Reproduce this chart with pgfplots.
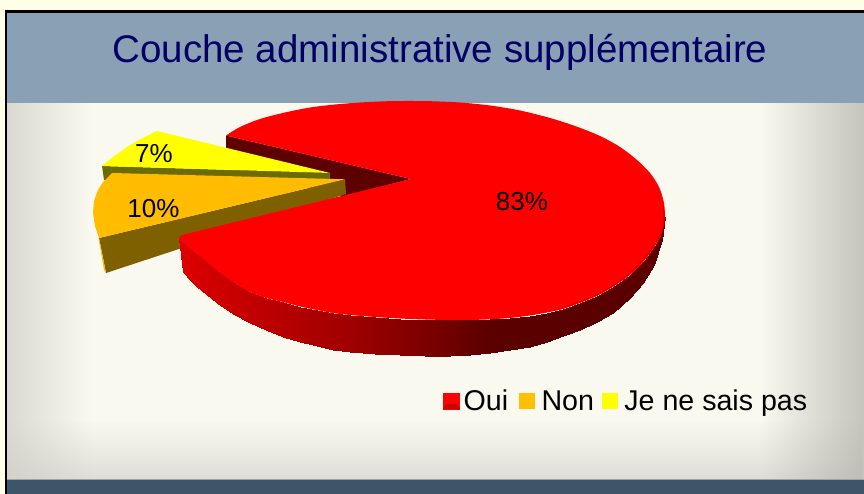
\documentclass[border=0pt]{standalone}
\usepackage{pgfplots}
\pgfplotsset{compat=1.18}
\usepackage{fontspec}
\setmainfont{Liberation Sans}
\usetikzlibrary{fadings}
\definecolor{pageB}{RGB}{255,255,232}
\definecolor{bodyB}{RGB}{249,249,240}
\definecolor{bandB}{RGB}{138,160,181}
\definecolor{barB}{RGB}{61,84,105}
\definecolor{titleC}{RGB}{0,0,102}
\definecolor{redT}{RGB}{255,0,0}
\definecolor{redD}{RGB}{94,0,0}
\definecolor{orT}{RGB}{255,188,0}
\definecolor{orL}{RGB}{255,192,0}
\definecolor{orD}{RGB}{127,96,0}
\definecolor{yeT}{RGB}{255,255,0}
\definecolor{yeD}{RGB}{107,107,0}
\tikzfading[name=fadeR, left color=transparent!0, right color=transparent!100]
\tikzfading[name=fadeL, left color=transparent!100, right color=transparent!0]
\tikzfading[name=fadeU, top color=transparent!100, bottom color=transparent!0]
\begin{document}
\begin{tikzpicture}
\begin{axis}[
  scale only axis, width=864pt, height=494pt,
  xmin=0, xmax=864, ymin=0, ymax=494, y dir=reverse,
  hide axis, clip=false,
  colormap={wall}{rgb255=(90,0,0) rgb255=(222,0,0)},
  point meta min=90, point meta max=222,
  legend columns=3,
  legend style={at={(axis cs:443,401)}, anchor=west, draw=none, fill=none, inner sep=0pt,
    font=\fontsize{28.6}{30}\selectfont,
    /tikz/column 1/.style={column sep=2pt},
    /tikz/column 2/.style={column sep=9pt},
    /tikz/column 3/.style={column sep=5pt},
    /tikz/column 4/.style={column sep=6pt},
    /tikz/column 5/.style={column sep=5pt}},
]
% page, frame, bands
\fill[pageB] (axis cs:0,0) rectangle (axis cs:864,494);
\fill[bodyB] (axis cs:5,103) rectangle (axis cs:864,480);
\fill[overlay, black!14!bodyB, path fading=fadeU] (axis cs:5,420.5) rectangle (axis cs:864,498.5);
\fill[overlay, black!17!bodyB, path fading=fadeR] (axis cs:-20.5,103) rectangle (axis cs:89.5,479);
\fill[overlay, black!28!bodyB, path fading=fadeL] (axis cs:760.5,103) rectangle (axis cs:898.5,479);
\fill[pageB] (axis cs:0,0) rectangle (axis cs:5,494);
\fill[black] (axis cs:5,10) rectangle (axis cs:7,494);
\fill[black] (axis cs:5,10) rectangle (axis cs:864,13);
\fill[bandB] (axis cs:7,13) rectangle (axis cs:864,103);
\fill[barB] (axis cs:7,480) rectangle (axis cs:864,494);
\fill[black!35!bodyB] (axis cs:7,479) rectangle (axis cs:864,480);

% legend
\addlegendimage{legend image code/.code={
  \fill[redT] (0pt,-8pt) rectangle (16pt,8pt);
  \fill[red!80!black] (0pt,-8pt) -- (16pt,-8pt) -- (13pt,-3pt) -- (3pt,-3pt) -- cycle;
}}
\addlegendentry{Oui}
\addlegendimage{legend image code/.code={\fill[orL] (0pt,-7.5pt) rectangle (15pt,7.5pt);}}
\addlegendentry{Non}
\addlegendimage{legend image code/.code={\fill[yeT] (0pt,-7.5pt) rectangle (15pt,7.5pt);}}
\addlegendentry{Je ne sais pas}

% inner wall of the gap
\addplot[forget plot, draw=none, fill=redD] coordinates {(226,135.5) (411,179) (349,195) (347,197) (226,170)} -- cycle;

% Je ne sais pas : 7 %
\addplot[forget plot, draw=none, fill=yeD] coordinates {(102,166) (330,173) (330,179) (104,180)} -- cycle;
\addplot[forget plot, draw=none, fill=yeT] coordinates {(157,131) (143,138) (130,145) (113,157) (102,166) (330,173)} -- cycle;

% Non : 10 %
\addplot[forget plot, draw=none, fill=orD] coordinates {(99,238) (345,179.3) (346,194) (106,273)} -- cycle;
\addplot[forget plot, draw=none, fill=orT] coordinates {(98.5,238) (99,238) (106,273) (104,270)} -- cycle;
\addplot[forget plot, draw=none, fill=orT] coordinates {(112,173) (103,182) (98,190) (94,201) (93,213) (95,226) (99,238) (345,179.3)} -- cycle;

% Oui : 83 % outer wall
\addplot[forget plot, surf, shader=interp, mesh/cols=30, point meta=explicit] table[x=x, y=y, meta=r] {
x y r
179 238 222
187 246 218
197 253 214
207 262 210
217 270 206
233 282 200
250 292 194
266 298 188
283 302 182
300 306.5 176
317 310 170
333 313 165
350 315 160
375 317 148
400 318.5 136
425 319.5 124
450 320 112
470 320 100
490 319 92
510 318 90
530 315.5 90
547 312.5 90
563 309 90
580 303 90
597 296 90
613 287 90
630 275 90
645 260 92
657 243 94
665 217 96
183 272 222
190 280 218
197 287 214
207 295 210
217 303 206
233 314 200
250 323 194
266 330 188
283 337 182
300 342 176
317 346 170
333 349.5 165
350 352 160
375 354 148
400 355 136
425 356 124
450 356 112
470 355 100
490 352.5 92
510 350 90
530 347 90
547 342 90
563 336 90
580 330 90
597 322 90
613 313 90
630 298 90
643 283 92
654 265 94
662 240 96
};

% Oui : top face, upper arc, lower arc, middle
\addplot[forget plot, draw=none, fill=redT, smooth, tension=0.5] coordinates {
(226,135.5) (240,127) (260,119) (285,112.5) (310,107.5) (335,104.5) (360,102.5) (385,101.3)
(405,101) (430,101.2) (460,102.5) (490,105.5) (520,110.5) (550,118) (575,126) (600,136)
(620,147) (637,160) (650,173) (659,187) (664,203) (665,217)};
\addplot[forget plot, draw=none, fill=redT, smooth, tension=0.5] coordinates {
(665,217) (663,230) (657,243)
(645,260) (630,275) (613,287) (597,296) (580,303) (563,309) (547,312.5) (530,315.5)
(510,318) (490,319.3) (470,320) (450,320) (425,319.5) (400,318.5) (375,317) (350,315)
(333,313) (317,310) (300,306.5) (283,302) (266,298) (250,292) (233,282) (217,270)
(207,262) (197,254) (187,246) (181,241) (179,238) (182,235)};
\addplot[forget plot, draw=none, fill=redT] coordinates {(226,135.5) (411,179) (182,235) (430,275) (660,228) (665,217) (660,203) (445,150)} -- cycle;

% soft darker lip on the lower right rim
\addplot[forget plot, draw={rgb,255:red,224;green,0;blue,0}, line width=1.2pt, smooth, tension=0.5] coordinates {
(663,205) (664,217) (662,230) (656,242) (644,259) (629,274) (612,286) (596,295) (579,302) (562,308)};

% title and value labels
\node[anchor=base, text=titleC, font=\fontsize{38.5}{40}\selectfont, inner sep=0pt] at (axis cs:440,63) {Couche administrative supplémentaire};
\node[anchor=base, font=\fontsize{26}{28}\selectfont, inner sep=0pt] at (axis cs:522,211) {83\%};
\node[anchor=base, font=\fontsize{26}{28}\selectfont, inner sep=0pt] at (axis cs:154,163) {7\%};
\node[anchor=base, font=\fontsize{26}{28}\selectfont, inner sep=0pt] at (axis cs:153.5,218) {10\%};
\end{axis}
\end{tikzpicture}
\end{document}
